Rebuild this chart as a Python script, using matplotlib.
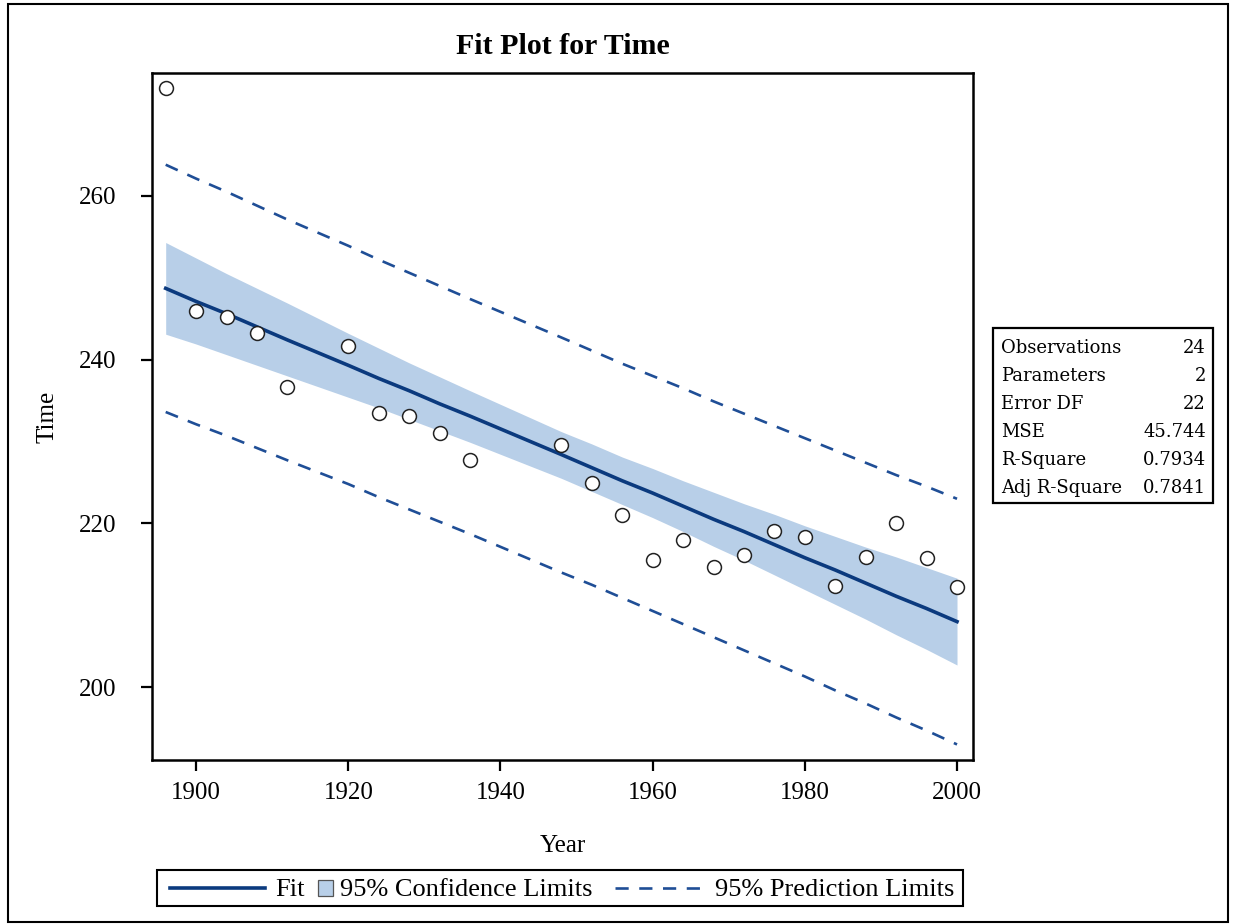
import matplotlib
matplotlib.use('Agg')
import matplotlib.pyplot as plt
from matplotlib.lines import Line2D
from matplotlib.patches import Rectangle

# Olympic years and observed times
years = [1896, 1900, 1904, 1908, 1912, 1920, 1924, 1928, 1932, 1936, 1948, 1952,
         1956, 1960, 1964, 1968, 1972, 1976, 1980, 1984, 1988, 1992, 1996, 2000]
times = [273.2, 245.9, 245.2, 243.3, 236.7, 241.7, 233.5, 233.1, 231.0, 227.7, 229.6, 224.9,
         221.0, 215.5, 218.0, 214.7, 216.1, 219.1, 218.3, 212.3, 215.9, 220.0, 215.8, 212.2]

# fit line and limits at each year
fit = [248.7, 247.1, 245.6, 244.0, 242.4, 239.3, 237.7, 236.2, 234.6, 233.1, 228.4, 226.8,
       225.2, 223.7, 222.1, 220.5, 219.0, 217.4, 215.8, 214.3, 212.7, 211.1, 209.6, 208.0]
ci_lower = [243.1, 241.9, 240.6, 239.3, 238.0, 235.4, 234.1, 232.7, 231.3, 229.9, 225.5, 223.9,
            222.3, 220.7, 219.0, 217.2, 215.5, 213.7, 211.9, 210.1, 208.3, 206.4, 204.6, 202.7]
ci_upper = [254.3, 252.4, 250.5, 248.7, 246.9, 243.2, 241.4, 239.6, 237.9, 236.2, 231.2, 229.7,
            228.1, 226.7, 225.2, 223.8, 222.4, 221.1, 219.7, 218.4, 217.1, 215.9, 214.6, 213.3]
pi_lower = [233.6, 232.1, 230.7, 229.2, 227.7, 224.8, 223.2, 221.7, 220.2, 218.7, 214.0, 212.5,
            210.9, 209.3, 207.7, 206.1, 204.5, 202.9, 201.3, 199.6, 198.0, 196.3, 194.7, 193.0]
pi_upper = [263.8, 262.1, 260.5, 258.8, 257.1, 253.9, 252.2, 250.6, 249.0, 247.4, 242.7, 241.1,
            239.5, 238.0, 236.5, 234.9, 233.4, 231.9, 230.4, 228.9, 227.4, 225.9, 224.5, 223.0]

stat_names = ['Observations', 'Parameters', 'Error DF', 'MSE', 'R-Square', 'Adj R-Square']
stat_values = ['24', '2', '22', '45.744', '0.7934', '0.7841']

fit_color = '#0B3A7E'
band_color = '#B8CFE8'
pred_color = '#1F4E96'

plt.rcParams['font.family'] = ['Liberation Serif', 'DejaVu Serif']

W, H = 1235, 924
fig = plt.figure(figsize=(W / 100, H / 100), dpi=100)
ax = fig.add_axes([152 / W, 1 - 760 / H, 821 / W, 687 / H])

ax.fill_between(years, ci_lower, ci_upper, color=band_color, lw=0, zorder=1)
ax.plot(years, fit, color=fit_color, lw=2.6, zorder=3)
ax.plot(years, pi_lower, color=pred_color, lw=1.9, dashes=(5, 4), zorder=2)
ax.plot(years, pi_upper, color=pred_color, lw=1.9, dashes=(5, 4), zorder=2)
ax.plot(years, times, 'o', mfc='white', mec='#222222', mew=1.1, ms=10, ls='none', zorder=4)

ax.set_xlim(1894.2, 2002.1)
ax.set_ylim(191.1, 275.0)
ax.set_xticks([1900, 1920, 1940, 1960, 1980, 2000])
ax.set_yticks([200, 220, 240, 260])
ax.tick_params(direction='out', length=8, width=1.6, labelsize=18)
ax.tick_params(axis='x', pad=8)
ax.tick_params(axis='y', pad=18)
for s in ax.spines.values():
    s.set_linewidth(1.8)

ax.set_xlabel('Year', fontsize=18, labelpad=22)
ax.set_ylabel('Time', fontsize=18, labelpad=14)
ax.set_title('Fit Plot for Time', fontsize=21.5, fontweight='bold', pad=14)

# statistics box
fig.patches.append(Rectangle((993 / W, 1 - 503 / H), 220 / W, 175 / H, transform=fig.transFigure,
                             fill=False, ec='black', lw=1.6))
for i, (n, v) in enumerate(zip(stat_names, stat_values)):
    yy = 1 - (348 + 28 * i) / H
    fig.text(1001 / W, yy, n, fontsize=13, family='DejaVu Serif', va='center', ha='left',
             fontweight='light')
    fig.text(1206 / W, yy, v, fontsize=13, family='DejaVu Serif', va='center', ha='right')

# legend, laid out by hand like the SAS one
ly = 1 - 888 / H
fig.patches.append(Rectangle((157 / W, 1 - 906 / H), 806 / W, 36 / H, transform=fig.transFigure,
                             fill=False, ec='black', lw=1.5))
fig.lines.append(Line2D([170 / W, 265 / W], [ly, ly], transform=fig.transFigure,
                        color=fit_color, lw=2.6))
fig.text(275 / W, ly, 'Fit', fontsize=19, va='center_baseline', ha='left')
fig.patches.append(Rectangle((318 / W, 1 - 896 / H), 15 / W, 16 / H, transform=fig.transFigure,
                             fc=band_color, ec='#555555', lw=0.9))
fig.text(340 / W, ly, '95% Confidence Limits', fontsize=19, va='center_baseline', ha='left')
fig.lines.append(Line2D([615 / W, 705 / W], [ly, ly], transform=fig.transFigure,
                        color=pred_color, lw=1.9, dashes=(5, 4)))
fig.text(715 / W, ly, '95% Prediction Limits', fontsize=19, va='center_baseline', ha='left')

# outer border
fig.patches.append(Rectangle((8 / W, 2 / H), 1220 / W, 918 / H, transform=fig.transFigure,
                             fill=False, ec='black', lw=1.5))

fig.savefig('out.png', dpi=100)
